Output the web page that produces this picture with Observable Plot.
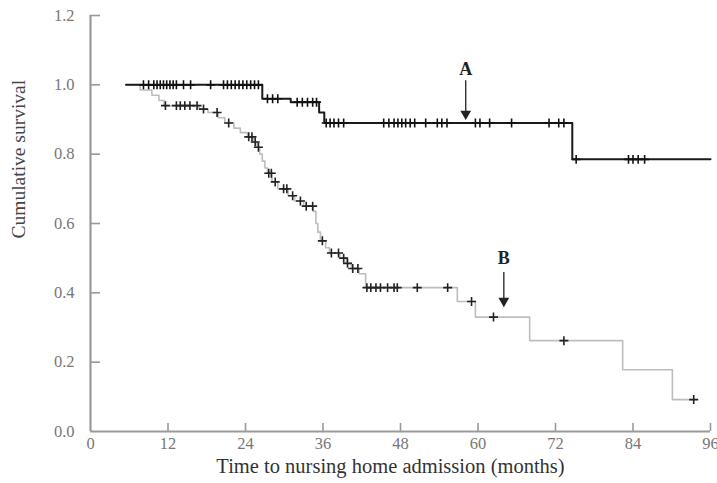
<!DOCTYPE html>
<html><head><meta charset="utf-8">
<script src="https://cdn.jsdelivr.net/npm/d3@7"></script>
<script src="https://cdn.jsdelivr.net/npm/@observablehq/plot@0.6"></script>
<style>
html,body{margin:0;padding:0;background:#fff;}
#chart{width:717px;height:483px;overflow:hidden;}
</style></head>
<body><div id="chart"></div>
<script>
// Kaplan-Meier step points (month, cumulative survival)
const aTimes = [5.5, 26.6, 31.0, 35.4, 36.2, 74.6, 96];
const aSurv  = [1.0, 0.96, 0.95, 0.92, 0.89, 0.785, 0.785];
const bTimes = [5.5, 7.7, 9.5, 10.6, 11.4, 16.8, 18.2, 19.8, 20.8, 22.2, 23.2, 24.3, 25.2, 25.8, 26.2, 26.6, 27.0, 27.4, 28.1, 29.0, 30.6, 31.6, 33.0, 34.5, 34.9, 35.2, 35.6, 36.4, 37.0, 38.6, 39.6, 40.4, 41.6, 42.6, 56.8, 59.6, 68.0, 82.4, 90.1, 93.6];
const bSurv  = [1.0, 0.985, 0.97, 0.955, 0.94, 0.93, 0.92, 0.905, 0.89, 0.875, 0.862, 0.85, 0.835, 0.82, 0.80, 0.78, 0.76, 0.745, 0.72, 0.70, 0.68, 0.665, 0.65, 0.635, 0.60, 0.575, 0.55, 0.53, 0.515, 0.50, 0.485, 0.47, 0.455, 0.415, 0.375, 0.33, 0.262, 0.178, 0.092, 0.092];
// censored observations (months)
const aCensor = [8.2, 9.0, 9.8, 10.3, 10.8, 11.3, 11.8, 12.3, 12.8, 13.3, 14.4, 15.5, 18.6, 20.6, 21.2, 21.8, 22.4, 23.0, 23.6, 24.2, 24.8, 25.4, 26.0, 27.4, 28.2, 29.0, 32.0, 32.8, 33.6, 34.4, 35.0, 36.5, 37.1, 37.7, 38.4, 39.2, 45.4, 46.2, 47.0, 47.6, 48.2, 48.8, 49.5, 50.2, 51.9, 53.7, 54.4, 55.2, 59.6, 60.3, 61.8, 65.2, 71.0, 72.5, 73.3, 75.2, 83.3, 84.0, 84.8, 85.8];
const bCensor = [11.6, 13.3, 13.9, 14.6, 15.4, 16.5, 17.5, 19.6, 21.4, 24.5, 25.0, 25.5, 26.0, 27.6, 28.0, 28.6, 29.9, 30.4, 31.3, 32.5, 33.4, 34.4, 35.9, 37.3, 38.4, 39.2, 39.8, 40.6, 41.4, 42.8, 43.4, 44.2, 44.9, 46.0, 47.0, 47.5, 50.6, 55.3, 59.0, 62.4, 73.3, 93.4];
// arrows and labels
const labels = ["A", "B"];
const arrowX = [58.1, 64.0];
const arrowTop = [1.013, 0.46];
const arrowTip = [0.905, 0.365];
const labelY = [1.045, 0.50];
const xTicks = [0, 12, 24, 36, 48, 60, 72, 84, 96];
const yTicks = [0.0, 0.2, 0.4, 0.6, 0.8, 1.0, 1.2];
const xLabel = "Time to nursing home admission (months)";
const yLabel = "Cumulative survival";

const W = 717, H = 483, mT = 15, mB = 52, mL = 90, mR = 7;
const serif = "'Liberation Serif','Times New Roman',serif";

function stepAt(times, surv, t) {
  let v = surv[0];
  for (let i = 0; i < times.length; i++) if (times[i] <= t) v = surv[i];
  return v;
}
const A = aTimes.map((t, i) => ({t, s: aSurv[i]}));
const B = bTimes.map((t, i) => ({t, s: bSurv[i]}));
const aC = aCensor.map(t => ({t, s: stepAt(aTimes, aSurv, t)}));
const bC = bCensor.map(t => ({t, s: stepAt(bTimes, bSurv, t)}));
const arrows = labels.map((l, i) => ({l, x: arrowX[i], y1: arrowTop[i], y2: arrowTip[i], ly: labelY[i]}));
const plotH = H - mT - mB, plotW = W - mL - mR;

const chart = Plot.plot({
  width: W, height: H,
  marginTop: mT, marginBottom: mB, marginLeft: mL, marginRight: mR,
  style: {fontFamily: serif, fontSize: "16.5px", background: "#fff", overflow: "visible"},
  x: {domain: [0, 96]},
  y: {domain: [0, 1.2]},
  marks: [
    // inward ticks
    Plot.tickX(xTicks.slice(1), {x: d => d, stroke: "#9a9a9a", strokeWidth: 1.6, insetTop: plotH - 8}),
    Plot.tickY(yTicks.slice(1), {y: d => d, stroke: "#9a9a9a", strokeWidth: 1.6, insetRight: plotW - 10}),
    Plot.ruleX([0], {stroke: "#9a9a9a", strokeWidth: 2.2}),
    Plot.ruleY([0], {stroke: "#9a9a9a", strokeWidth: 2.2}),
    Plot.axisX({ticks: xTicks, tickSize: 0, tickPadding: 6, tickFormat: d => String(d), fontSize: 16.5, color: "#777", label: null}),
    Plot.axisY({ticks: yTicks, tickSize: 0, tickPadding: 16, tickFormat: d => d.toFixed(1), fontSize: 16.5, color: "#777", label: null}),
    Plot.text([xLabel], {frameAnchor: "bottom", dy: 41, dx: -10, text: d => d, fontSize: 20.5, fill: "#333"}),
    Plot.text([yLabel], {frameAnchor: "left", dx: -72, dy: 15, rotate: -90, text: d => d, fontSize: 19.5, fill: "#444"}),
    // curves
    Plot.line(B, {x: "t", y: "s", curve: "step-after", stroke: "#bdbdbd", strokeWidth: 1.6}),
    Plot.line(A, {x: "t", y: "s", curve: "step-after", stroke: "#1a1a1a", strokeWidth: 2}),
    Plot.dot(bC, {x: "t", y: "s", symbol: "plus", r: 3, stroke: "#222", strokeWidth: 1.6}),
    Plot.dot(aC, {x: "t", y: "s", symbol: "plus", r: 3, stroke: "#111", strokeWidth: 1.6}),
    // arrows
    Plot.link(arrows, {x1: "x", x2: "x", y1: "y1", y2: "y2", stroke: "#222", strokeWidth: 1.3}),
    Plot.dot(arrows, {x: "x", y: "y2", symbol: "triangle", rotate: 180, r: 4, fill: "#222", dy: -4}),
    Plot.text(arrows, {x: "x", y: "ly", text: "l", fontSize: 18, fontWeight: "bold", fill: "#222"})
  ]
});
document.getElementById("chart").appendChild(chart);
</script>
</body></html>
